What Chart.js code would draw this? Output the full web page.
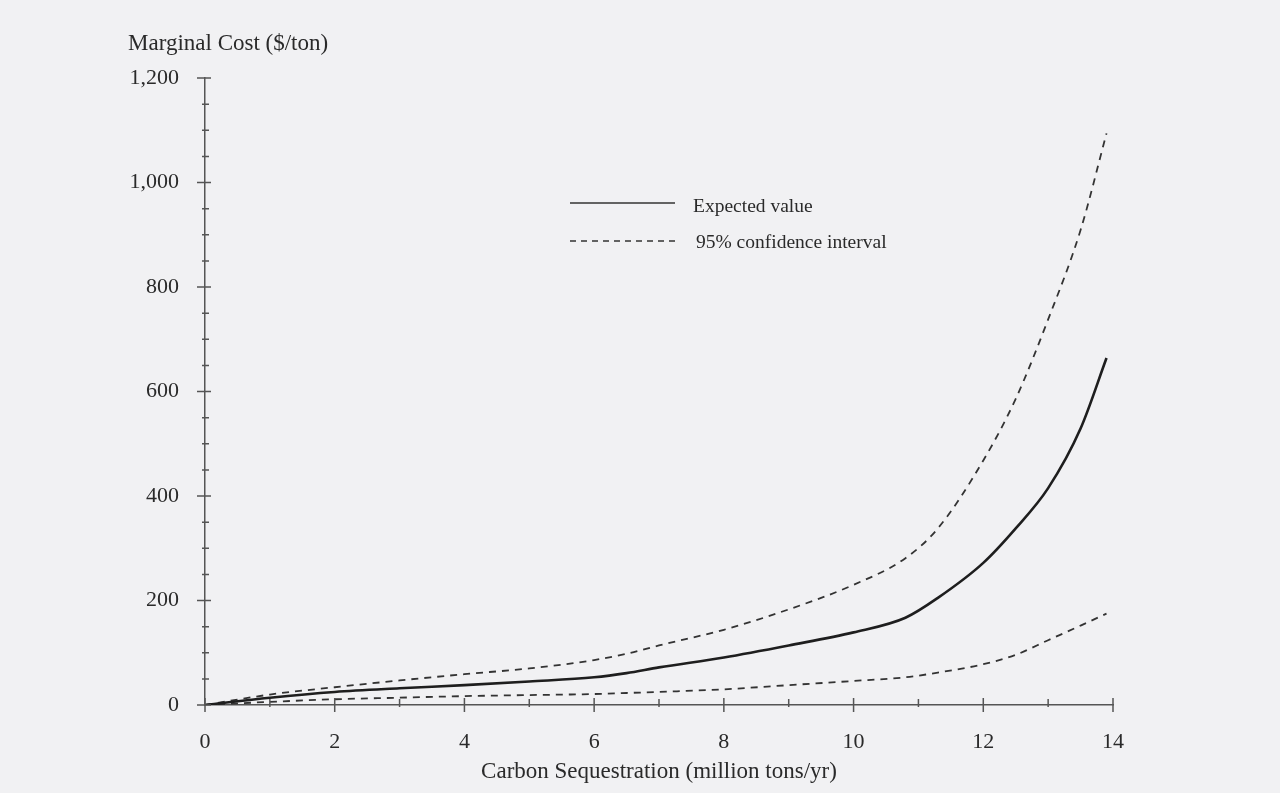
<!DOCTYPE html>
<html>
<head>
<meta charset="utf-8">
<script src="https://cdn.jsdelivr.net/npm/chart.js"></script>
<style>
  html, body { margin: 0; padding: 0; background: #f1f1f3; }
  #wrap { width: 1280px; height: 793px; }
</style>
</head>
<body>
<div id="wrap"><canvas id="mcChart"></canvas></div>
<script>
    // sequestration levels (million tons/yr)
    const xVals = [0, 1, 2, 3, 4, 5, 6, 6.5, 7, 8, 9, 10, 10.8, 11.3, 12, 12.5, 13, 13.5, 13.9];
    const expected = [0, 14, 25, 32, 38, 45, 53, 61, 72, 91, 114, 139, 167, 205, 272, 338, 415, 529, 664];
    const upperCI = [0, 20, 34, 47, 59, 70, 86, 98, 114, 144, 183, 230, 281, 338, 468, 586, 738, 909, 1094];
    const lowerCI = [0, 6, 11, 14, 17, 19, 21, 23, 25, 30, 38, 46, 53, 62, 78, 96, 124, 152, 175];
    const legendLabels = ['Expected value', '95% confidence interval'];

    const serif = '"Liberation Serif", "DejaVu Serif", serif';
    const axisColor = '#555';
    const textColor = '#2a2a2a';
    const toPts = (ys) => xVals.map((x, i) => ({ x: x, y: ys[i] }));

    // tick marks on both sides of the axes + y axis title + legend
    const extras = {
        id: 'extras',
        afterDraw(chart) {
            const { ctx, chartArea, scales } = chart;
            const xs = scales.x, ys = scales.y;
            ctx.save();
            ctx.strokeStyle = axisColor;
            ctx.lineWidth = 1.5;
            ctx.beginPath();
            for (let v = 0; v <= 1200; v += 50) {
                const py = ys.getPixelForValue(v);
                const major = v % 200 === 0;
                ctx.moveTo(chartArea.left - (major ? 8 : 3), py);
                ctx.lineTo(chartArea.left + (major ? 6 : 4), py);
            }
            for (let v = 0; v <= 14; v += 1) {
                const px = xs.getPixelForValue(v);
                const major = v % 2 === 0;
                ctx.moveTo(px, chartArea.bottom - (major ? 7 : 6));
                ctx.lineTo(px, chartArea.bottom + (major ? 7 : 2));
            }
            ctx.stroke();

            ctx.fillStyle = textColor;
            ctx.font = '23px ' + serif;
            ctx.textBaseline = 'middle';
            ctx.textAlign = 'left';
            ctx.fillText('Marginal Cost ($/ton)', 128, 44);

            // legend
            ctx.font = '19.5px ' + serif;
            ctx.strokeStyle = '#333';
            ctx.lineWidth = 1.5;
            ctx.beginPath();
            ctx.moveTo(570, 203);
            ctx.lineTo(675, 203);
            ctx.stroke();
            ctx.setLineDash([6, 5]);
            ctx.beginPath();
            ctx.moveTo(570, 241);
            ctx.lineTo(675, 241);
            ctx.stroke();
            ctx.setLineDash([]);
            ctx.fillText(legendLabels[0], 693, 207);
            ctx.fillText(legendLabels[1], 696, 243);
            ctx.restore();
        }
    };

    const lineDefaults = { pointRadius: 0, fill: false, cubicInterpolationMode: 'monotone' };

    new Chart(document.getElementById('mcChart'), {
        type: 'line',
        data: {
            datasets: [
                { ...lineDefaults, label: legendLabels[0], data: toPts(expected), borderColor: '#1e1e1e', borderWidth: 2.6 },
                { ...lineDefaults, label: legendLabels[1], data: toPts(upperCI), borderColor: '#333', borderWidth: 1.8, borderDash: [7, 6] },
                { ...lineDefaults, label: 'lower', data: toPts(lowerCI), borderColor: '#333', borderWidth: 1.8, borderDash: [7, 6] }
            ]
        },
        options: {
            responsive: true,
            maintainAspectRatio: false,
            animation: false,
            layout: { padding: { top: 78, right: 167, left: 0, bottom: 0 } },
            plugins: { legend: { display: false }, tooltip: { enabled: false } },
            scales: {
                x: {
                    type: 'linear', min: 0, max: 14,
                    grid: { display: false },
                    border: { display: true, color: axisColor, width: 1.5 },
                    ticks: { stepSize: 2, color: textColor, padding: 16, font: { family: serif, size: 22 } },
                    title: { display: true, text: 'Carbon Sequestration (million tons/yr)', color: textColor, font: { family: serif, size: 23 }, padding: { top: 0, bottom: 7 } },
                    afterFit: (s) => { s.height = 88; }
                },
                y: {
                    min: 0, max: 1200,
                    grid: { display: false },
                    border: { display: true, color: axisColor, width: 1.5 },
                    ticks: {
                        stepSize: 200, color: textColor, padding: 18, font: { family: serif, size: 22 },
                        callback: (v) => v.toLocaleString('en-US')
                    },
                    afterFit: (s) => { s.width = 205; }
                }
            }
        },
        plugins: [extras]
    });
</script>
</body>
</html>
